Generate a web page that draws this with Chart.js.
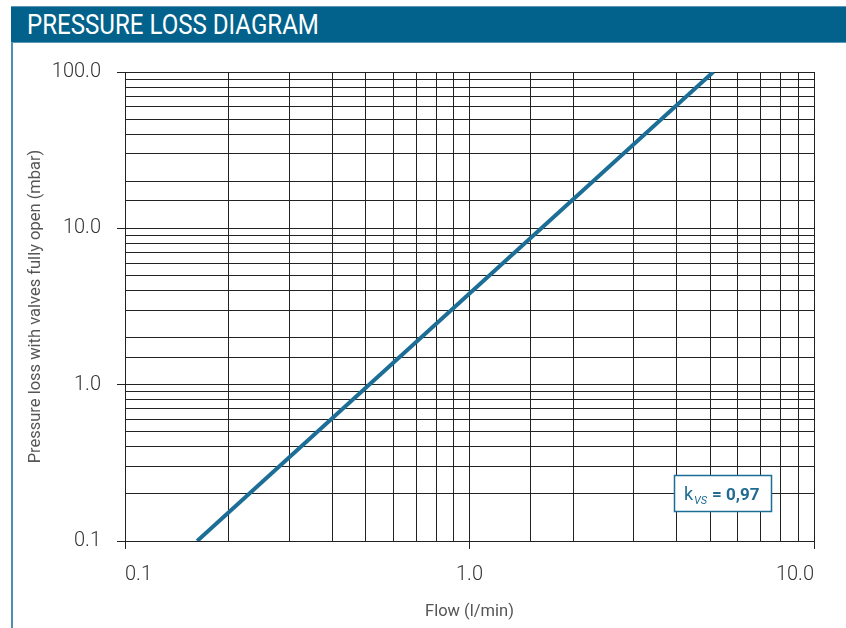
<!DOCTYPE html>
<html>
<head>
<meta charset="utf-8">
<script src="https://cdn.jsdelivr.net/npm/chart.js@4"></script>
<style>
  body { margin: 0; background: #fff; }
  #wrap { position: relative; width: 846px; height: 628px; overflow: hidden; }
  #titlebar {
    position: absolute; left: 11px; top: 6px; width: 835px; height: 35px;
    background: #02628b; border-top: 1px solid #5a96b8; border-bottom: 1px solid #5a96b8;
    color: #fff; font-family: Roboto, sans-serif; font-size: 28px; line-height: 35px;
    box-sizing: content-box; white-space: nowrap;
  }
  #titlebar span { display: inline-block; transform: scaleX(0.86); transform-origin: 0 50%; margin-left: 16px; }
  #leftline { position: absolute; left: 11px; top: 43px; width: 2px; height: 585px; background: #4f8fb5; }
  canvas { position: absolute; left: 0; top: 0; }
</style>
</head>
<body>
<div id="wrap">
  <canvas id="myChart" width="846" height="628"></canvas>
  <div id="titlebar"><span>PRESSURE LOSS DIAGRAM</span></div>
  <div id="leftline"></div>
</div>
<script>
// valores
var flow = [0.162, 5.1];          // l/min
var pressure = [0.1, 100];         // mbar
var xTicks = [0.1, 1, 10];
var yTicks = [0.1, 1, 10, 100];
var kvsLabel = "0,97";

var gridColor = "#222";
var lineColor = "#1d6e96";

function esMayor(v, lista){
    for(var i = 0; i < lista.length; i++){
        if(Math.abs(v - lista[i]) < lista[i] * 0.001) return true;
    }
    return false;
}

var puntos = flow.map(function(f, i){ return {x: f, y: pressure[i]}; });

// caja con el valor kvs
var cajaKvs = {
    id: "cajaKvs",
    afterDraw: function(chart){
        var ctx = chart.ctx;
        var a = chart.chartArea;
        var w = 97, h = 36;
        var x = a.right - 43 - w;
        var y = a.bottom - 30 - h;
        ctx.save();
        ctx.fillStyle = "#fff";
        ctx.fillRect(x, y, w, h);
        ctx.strokeStyle = lineColor;
        ctx.lineWidth = 1.5;
        ctx.strokeRect(x + 0.5, y + 0.5, w, h);
        ctx.fillStyle = "#1f6b91";
        ctx.textBaseline = "alphabetic";
        var base = y + 25;
        ctx.font = "18px Roboto";
        ctx.fillText("k", x + 10, base);
        ctx.font = "italic 11px Roboto";
        ctx.fillText("VS", x + 20, base + 4);
        ctx.font = "bold 17px Roboto";
        ctx.fillText("= " + kvsLabel, x + 38, base);
        ctx.restore();
    }
};

var ctx = document.getElementById("myChart").getContext("2d");
var myChart = new Chart(ctx, {
    type: "scatter",
    data: {
        datasets: [{
            data: puntos,
            showLine: true,
            borderColor: lineColor,
            backgroundColor: lineColor,
            borderWidth: 4,
            pointRadius: 0,
            borderCapStyle: "butt"
        }]
    },
    options: {
        responsive: false,
        animation: false,
        layout: { padding: { left: 22, right: 32, top: 72, bottom: 0 } },
        plugins: { legend: { display: false }, tooltip: { enabled: false } },
        scales: {
            x: {
                type: "logarithmic",
                min: 0.1, max: 10,
                afterFit: function(s){ s.height = 87; },
                border: { display: true, color: gridColor, width: 1 },
                grid: {
                    color: gridColor, lineWidth: 1, tickLength: 8,
                    tickColor: function(c){ return c.tick && esMayor(c.tick.value, xTicks) ? gridColor : "rgba(0,0,0,0)"; }
                },
                ticks: {
                    autoSkip: false, maxRotation: 0, align: "inner", padding: 14,
                    color: "#333", font: { family: "Roboto", size: 20, weight: 300 },
                    callback: function(v){ return esMayor(v, xTicks) ? Number(v).toFixed(1) : ""; }
                },
                title: {
                    display: true, text: "Flow (l/min)", color: "#555",
                    font: { family: "Roboto", size: 16.5 }, padding: { top: 20, bottom: 6 }
                }
            },
            y: {
                type: "logarithmic",
                min: 0.1, max: 100,
                afterFit: function(s){ s.width = 103; },
                border: { display: true, color: gridColor, width: 1 },
                grid: {
                    color: gridColor, lineWidth: 1, tickLength: 8,
                    tickColor: function(c){ return c.tick && esMayor(c.tick.value, yTicks) ? gridColor : "rgba(0,0,0,0)"; }
                },
                ticks: {
                    autoSkip: false, padding: 16,
                    color: "#333", font: { family: "Roboto", size: 20, weight: 300 },
                    callback: function(v){ return esMayor(v, yTicks) ? Number(v).toFixed(1) : ""; }
                },
                title: {
                    display: true, text: "Pressure loss with valves fully open (mbar)", color: "#555",
                    font: { family: "Roboto", size: 16.5 }, padding: { top: 4, bottom: 0 }
                }
            }
        }
    },
    plugins: [cajaKvs]
});
</script>
</body>
</html>
